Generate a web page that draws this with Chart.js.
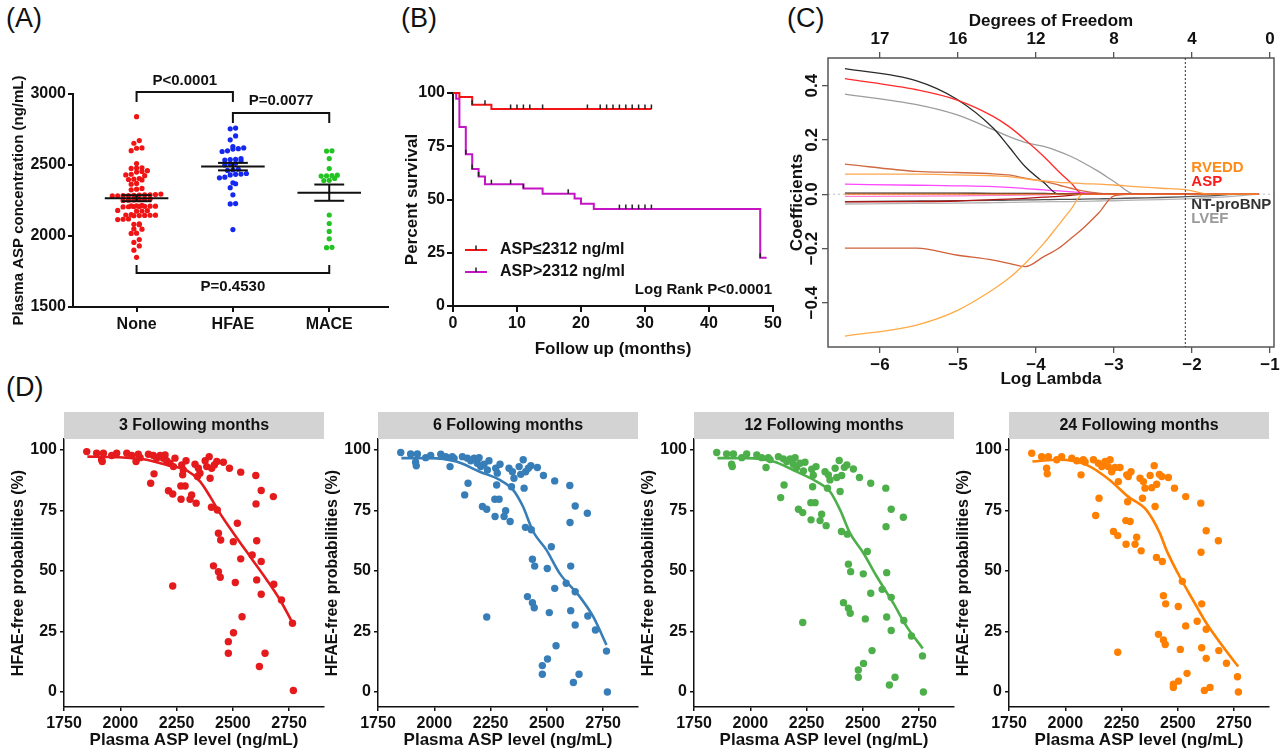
<!DOCTYPE html>
<html>
<head>
<meta charset="utf-8">
<title>Plasma ASP figure</title>
<script src="https://cdn.jsdelivr.net/npm/chart.js@4.4.1/dist/chart.umd.min.js"></script>
<style>
  html, body { margin: 0; padding: 0; background: #fff; }
  body { position: relative; width: 1284px; height: 753px; overflow: hidden; font-family: "Liberation Sans", Arial, sans-serif; }
  canvas { position: absolute; }
  .tag { position: absolute; font-size: 27px; line-height: 27px; color: #111; }
</style>
</head>
<body>
<div class="tag" style="left:6px;top:5px">(A)</div>
<div class="tag" style="left:401px;top:5px">(B)</div>
<div class="tag" style="left:787px;top:5px">(C)</div>
<div class="tag" style="left:6px;top:374px">(D)</div>
<canvas id="chartA" width="392" height="310" style="left:0px;top:60px"></canvas>
<canvas id="chartB" width="393" height="310" style="left:392px;top:60px"></canvas>
<canvas id="chartC" width="499" height="390" style="left:785px;top:0px"></canvas>
<canvas id="chartD1" width="330" height="348" style="left:0px;top:405px"></canvas>
<canvas id="chartD2" width="330" height="348" style="left:314px;top:405px"></canvas>
<canvas id="chartD3" width="330" height="348" style="left:630px;top:405px"></canvas>
<canvas id="chartD4" width="330" height="348" style="left:945px;top:405px"></canvas>
<script>
// ---------- (A) ASP by outcome group ----------
const groupNames = ['None', 'HFAE', 'MACE'];
const aspNone = [2840, 2672, 2653, 2620, 2618, 2601, 2510, 2480, 2478, 2476, 2460, 2455, 2450, 2435, 2430, 2425,
  2405, 2400, 2398, 2395, 2370, 2365, 2335, 2330, 2325, 2295, 2292, 2290, 2290, 2288, 2286, 2285, 2284, 2283, 2282,
  2260, 2258, 2256, 2254, 2252, 2250, 2215, 2213, 2212, 2210, 2210, 2209, 2208, 2207, 2206, 2205, 2180, 2178, 2176,
  2175, 2150, 2148, 2147, 2146, 2145, 2144, 2143, 2120, 2118, 2116, 2085, 2082, 2080, 2050, 2048, 2020, 2018, 1975,
  1955, 1930, 1900, 1850];
const aspHfae = [2760, 2755, 2705, 2677, 2630, 2620, 2615, 2612, 2600, 2595, 2545, 2540, 2538, 2535, 2530, 2512, 2508,
  2500, 2470, 2466, 2462, 2440, 2436, 2434, 2430, 2414, 2410, 2375, 2368, 2340, 2290, 2228, 2226, 2045];
const aspMace = [2600, 2598, 2545, 2475, 2428, 2425, 2424, 2422, 2405, 2392, 2390, 2148, 2088, 2032, 1980, 1920, 1918];
const groupValues = [aspNone, aspHfae, aspMace];
const groupColors = ['#f01414', '#1428f0', '#22c322'];
const brackets = [
  { from: 1, to: 2, level: 3014, tip: 2944, text: 'P<0.0001', textAt: 3092 },
  { from: 2, to: 3, level: 2866, tip: 2796, text: 'P=0.0077', textAt: 2951 },
  { from: 1, to: 3, level: 1739, tip: 1796, text: 'P=0.4530', textAt: 1641 }
];

// ---------- (B) Kaplan-Meier ----------
const kmLowT = [0, 1, 3, 6, 31];
const kmLowS = [100, 98.1, 94.5, 92.5, 92.5];
const kmLowCensor = [3, 5, 9, 10, 11, 12, 14, 21, 23, 24, 25, 26, 27, 28, 29, 30, 31];
const kmHighT = [0, 0.5, 1, 2, 3, 4, 5, 11, 14, 19, 20, 22, 48, 49];
const kmHighS = [100, 97.3, 84.0, 71.3, 64.3, 60.8, 57.2, 55.2, 52.7, 50.5, 48.0, 45.5, 22.7, 22.7];
const kmHighCensor = [2, 3, 4, 6, 9, 11, 18, 26, 27, 28, 29, 30, 31, 48];
const kmLabels = ['ASP\u22642312 ng/ml', 'ASP>2312 ng/ml'];

// ---------- (C) LASSO paths ----------
const lassoLambda = [-6.45, -5.53, -5.02, -4.55, -4.35, -4.14, -3.9, -3.71, -3.55, -3.4, -3.2, -3.0, -2.73, -2.4, -2.07, -1.77, -1.37, -1.15];
const coefZero = [0, 0, 0, 0, 0, 0, 0, 0, 0, 0, 0, 0, 0, 0, 0, 0, 0, 0];
const coefDark = [0.463, 0.418, 0.351, 0.244, 0.176, 0.102, 0.043, 0, 0, 0, 0, 0, 0, 0, 0, 0, 0, 0];
const coefRed = [0.426, 0.385, 0.348, 0.287, 0.250, 0.201, 0.139, 0.084, 0.041, 0, 0, 0, 0, 0, 0, 0, 0, 0];
const coefGray = [0.369, 0.330, 0.293, 0.238, 0.213, 0.191, 0.176, 0.158, 0.139, 0.117, 0.084, 0.047, 0, 0, 0, 0, 0, 0];
const coefBrownUp = [0.111, 0.084, 0.080, 0.075, 0.071, 0.059, 0.047, 0.034, 0.022, 0.012, 0.004, 0, 0, 0, 0, 0, 0, 0];
const coefOrangeUp = [0.074, 0.074, 0.071, 0.068, 0.065, 0.057, 0.049, 0.044, 0.042, 0.039, 0.037, 0.034, 0.028, 0.022, 0.016, 0, 0, 0];
const coefMagenta = [0.037, 0.033, 0.031, 0.028, 0.025, 0.021, 0.016, 0.012, 0.009, 0.006, 0.002, 0, 0, 0, 0, 0, 0, 0];
const coefOrangeLow = [-0.523, -0.482, -0.430, -0.351, -0.310, -0.255, -0.181, -0.113, -0.055, 0, 0, 0, 0, 0, 0, 0, 0, 0];
const coefBrownLow = [-0.199, -0.199, -0.224, -0.243, -0.255, -0.267, -0.230, -0.199, -0.162, -0.126, -0.070, -0.006, 0, 0, 0, 0, 0, 0];
const coefBlack2 = [0.004, 0.004, 0.004, 0.003, 0.003, 0.003, 0.003, 0.002, 0.002, 0.002, 0.001, 0, 0, 0, 0, 0, 0, 0];
const coefDarkRed = [-0.028, -0.027, -0.025, -0.020, -0.018, -0.015, -0.011, -0.008, -0.004, 0, 0, 0, 0, 0, 0, 0, 0, 0];
const coefPink = [-0.008, -0.007, -0.006, -0.004, -0.004, -0.003, -0.002, 0, 0, 0, 0, 0, 0, 0, 0, 0, 0, 0];
const coefNtprobnp = [-0.027, -0.025, -0.024, -0.023, -0.022, -0.021, -0.020, -0.019, -0.019, -0.018, -0.017, -0.016, -0.014, -0.012, -0.009, -0.006, 0, 0];
const coefLvef = [-0.036, -0.034, -0.033, -0.031, -0.030, -0.029, -0.028, -0.027, -0.027, -0.026, -0.025, -0.024, -0.022, -0.020, -0.017, -0.013, -0.005, 0];
const dfTicks = [-6, -5, -4, -3, -2, -1];
const dfLabels = ['17', '16', '12', '8', '4', '0'];
const cvLambda = -2.086;

// ---------- (D) HFAE-free probability vs ASP ----------
const aspLevel = [1851, 1895, 1917, 1920, 1925, 1962, 1984, 2029, 2051, 2070, 2080, 2088, 2125, 2147, 2162, 2177, 2191,
  2199, 2206, 2221, 2243, 2236, 2273, 2280, 2292, 2277, 2332, 2347, 2354, 2377, 2395, 2384, 2406, 2399, 2418, 2429,
  2458, 2485, 2535, 2602, 2343, 2150, 2135, 2214, 2233, 2269, 2288, 2270, 2310, 2317, 2337, 2405, 2431, 2626, 2680,
  2603, 2436, 2446, 2520, 2502, 2535, 2586, 2606, 2626, 2414, 2436, 2444, 2511, 2606, 2626, 2682, 2716, 2233, 2541,
  2503, 2480, 2480, 2643, 2618, 2765, 2769];
const hfae3 = [99.3, 98.6, 95.9, 95.2, 98.6, 97.7, 98.6, 98.6, 97.7, 95.2, 98.2, 96.8, 98.2, 97.7, 96.6, 97.7, 96.6,
  97.9, 95.5, 94.5, 96.6, 93.1, 93.8, 91.7, 95.5, 89.7, 94.1, 92.4, 90.4, 95.5, 97.2, 93.1, 92.4, 88.3, 93.8, 95.2,
  94.9, 92.4, 90.8, 89.4, 89.0, 90.1, 86.2, 83.1, 81.8, 85.1, 85.1, 79.6, 79.6, 81.4, 78.0, 76.3, 75.2, 83.2, 80.7,
  77.7, 65.6, 62.8, 69.7, 62.1, 55.0, 56.6, 62.5, 53.9, 52.1, 49.7, 47.4, 45.2, 46.3, 40.4, 44.5, 38.0, 43.8, 31.1,
  24.5, 20.8, 16.0, 16.0, 10.5, 28.4, 0.6];
const hfae6 = [98.9, 98.3, 94.9, 93.4, 98.3, 96.8, 97.7, 98.2, 97.2, 93.1, 97.2, 96.5, 97.2, 96.6, 95.5, 96.6, 94.5,
  96.8, 93.1, 94.1, 95.5, 91.7, 92.4, 90.4, 94.1, 85.5, 92.4, 91.0, 88.3, 93.1, 95.9, 89.9, 91.0, 84.2, 92.4, 93.5,
  92.7, 89.4, 87.2, 85.3, 84.8, 86.2, 81.4, 76.6, 75.5, 79.6, 79.6, 72.5, 72.5, 74.9, 70.4, 68.0, 67.0, 76.8, 73.8,
  70.0, 54.8, 52.0, 60.0, 51.0, 42.8, 44.9, 52.0, 41.4, 39.4, 36.9, 34.8, 32.8, 33.6, 27.7, 31.4, 25.6, 31.0, 19.1,
  13.6, 10.9, 7.3, 7.3, 3.9, 16.9, 0];
const hfae12 = [98.9, 98.3, 94.1, 93.1, 98.3, 96.8, 98.3, 97.9, 96.8, 92.7, 96.8, 96.0, 97.2, 96.3, 95.2, 96.3, 94.1,
  96.8, 92.7, 94.5, 94.9, 91.3, 92.0, 89.5, 93.1, 84.8, 91.0, 89.7, 87.6, 92.4, 95.6, 88.6, 89.4, 82.8, 92.8, 93.8,
  92.1, 88.6, 86.2, 84.2, 84.2, 85.5, 80.3, 75.5, 74.1, 78.2, 78.2, 71.1, 70.8, 73.4, 68.7, 66.3, 65.2, 75.5, 72.2,
  68.3, 52.8, 49.7, 58.0, 48.8, 40.8, 42.4, 49.3, 39.1, 36.9, 34.6, 32.5, 30.2, 31.0, 25.4, 29.5, 23.1, 28.7, 17.1,
  11.8, 9.1, 6.1, 6.1, 2.9, 14.9, 0];
const hfae24 = [98.6, 97.2, 92.4, 90.1, 97.2, 95.9, 97.2, 96.6, 95.5, 89.7, 95.9, 95.0, 95.9, 94.5, 93.1, 95.2, 93.1,
  95.9, 91.0, 92.7, 92.7, 86.9, 89.7, 89.0, 91.0, 78.6, 88.3, 86.9, 84.2, 89.4, 93.5, 84.4, 85.8, 76.6, 89.9, 89.0,
  88.6, 84.2, 80.7, 78.0, 80.0, 80.0, 72.9, 66.3, 64.6, 70.8, 70.4, 61.0, 61.0, 63.9, 58.3, 55.6, 53.9, 66.6, 62.5,
  57.7, 39.8, 36.4, 45.7, 35.3, 27.3, 29.2, 36.4, 25.9, 23.8, 21.5, 19.6, 17.6, 18.3, 13.9, 17.1, 11.9, 16.4, 7.7,
  4.5, 3.2, 1.9, 1.9, 0.6, 6.3, 0];
const fit3X = [1854, 1984, 2103, 2206, 2295, 2355, 2399, 2443, 2503, 2577, 2651, 2710, 2762];
const fit3Y = [97.2, 97.0, 96.1, 93.8, 91.5, 86.9, 80.7, 73.8, 65.6, 55.9, 46.3, 38.0, 29.1];
const fit6X = [1854, 1980, 2098, 2202, 2291, 2350, 2394, 2439, 2498, 2557, 2646, 2706, 2765];
const fit6Y = [96.6, 96.6, 95.2, 91.0, 87.6, 83.5, 76.6, 66.3, 58.7, 49.0, 39.4, 31.1, 19.4];
const fit12X = [1854, 1984, 2103, 2206, 2295, 2354, 2399, 2443, 2503, 2562, 2636, 2695, 2766];
const fit12Y = [96.6, 96.6, 95.2, 91.0, 86.9, 82.8, 75.2, 65.6, 57.3, 47.7, 36.6, 27.0, 18.0];
const fit24X = [1854, 1975, 2094, 2197, 2279, 2360, 2420, 2449, 2508, 2567, 2627, 2701, 2768];
const fit24Y = [95.2, 95.9, 93.8, 87.6, 80.7, 75.2, 65.6, 58.7, 47.7, 38.0, 28.4, 18.7, 10.5];

const FONT = '"Liberation Sans", Arial, sans-serif';
Chart.defaults.font.family = FONT;
Chart.defaults.font.weight = 'bold';
Chart.defaults.color = '#111';
Chart.defaults.animation = false;
Chart.defaults.events = [];
Chart.defaults.plugins.legend.display = false;
Chart.defaults.plugins.tooltip.enabled = false;

function bold(size) { return { size: size, weight: 'bold', family: FONT }; }
const plain = v => String(v);

// ---------- helpers ----------
const mean = a => a.reduce((s, v) => s + v, 0) / a.length;
const sem = a => {
  const m = mean(a);
  return Math.sqrt(a.reduce((s, v) => s + (v - m) * (v - m), 0) / (a.length - 1) / a.length);
};

// simple beeswarm: values within ~one dot height share a row and spread sideways
function swarm(values, center) {
  const sorted = values.slice().sort((a, b) => a - b);
  const pts = [];
  let i = 0;
  while (i < sorted.length) {
    let j = i;
    while (j < sorted.length && sorted[j] - sorted[i] < 32) j++;
    const n = j - i;
    for (let k = 0; k < n; k++) pts.push({ x: center + (k - (n - 1) / 2) * 0.056, y: sorted[i + k] });
    i = j;
  }
  return pts;
}

function survAt(ts, ss, t) {
  let s = ss[0];
  for (let i = 0; i < ts.length; i++) if (ts[i] <= t) s = ss[i];
  return s;
}

// ---------- chart A ----------
const statsPlugin = {
  id: 'stats',
  afterDatasetsDraw(chart) {
    const { ctx, scales: { x, y } } = chart;
    const px = v => x.getPixelForValue(v), py = v => y.getPixelForValue(v);
    const seg = (x1, y1, x2, y2) => { ctx.beginPath(); ctx.moveTo(px(x1), py(y1)); ctx.lineTo(px(x2), py(y2)); ctx.stroke(); };
    ctx.save();
    ctx.strokeStyle = '#111';
    ctx.lineWidth = 2;
    groupValues.forEach((vals, i) => {
      const c = i + 1, m = mean(vals), e = sem(vals);
      seg(c - 0.33, m, c + 0.33, m);
      seg(c, m - e, c, m + e);
      seg(c - 0.155, m - e, c + 0.155, m - e);
      seg(c - 0.155, m + e, c + 0.155, m + e);
    });
    ctx.fillStyle = '#111';
    ctx.font = 'bold 15px ' + FONT;
    ctx.textAlign = 'center';
    ctx.textBaseline = 'middle';
    brackets.forEach(b => {
      ctx.beginPath();
      ctx.moveTo(px(b.from), py(b.tip));
      ctx.lineTo(px(b.from), py(b.level));
      ctx.lineTo(px(b.to), py(b.level));
      ctx.lineTo(px(b.to), py(b.tip));
      ctx.stroke();
      ctx.fillText(b.text, px((b.from + b.to) / 2), py(b.textAt));
    });
    ctx.restore();
  }
};

new Chart(document.getElementById('chartA'), {
  type: 'line',
  data: {
    datasets: groupValues.map((vals, i) => ({
      data: swarm(vals, i + 1),
      showLine: false,
      pointRadius: 2.6,
      pointBorderWidth: 0,
      pointBackgroundColor: groupColors[i],
      clip: false
    }))
  },
  options: {
    responsive: false,
    layout: { padding: { top: 34, right: 2, left: 0, bottom: 0 } },
    scales: {
      x: {
        type: 'linear', min: 0.34, max: 3.61,
        afterBuildTicks: s => { s.ticks = groupNames.map((n, i) => ({ value: i + 1 })); },
        afterFit: s => { s.height = 63; },
        ticks: { font: bold(16), color: '#111', padding: 3, callback: v => groupNames[Math.round(v) - 1] },
        grid: { drawOnChartArea: false, tickLength: 5, color: '#111', lineWidth: 2 },
        border: { color: '#111', width: 2 }
      },
      y: {
        min: 1500, max: 3000,
        afterFit: s => { s.width = 73; },
        ticks: { stepSize: 500, font: bold(16), color: '#111', padding: 2, callback: plain },
        grid: { drawOnChartArea: false, tickLength: 5, color: '#111', lineWidth: 2 },
        border: { color: '#111', width: 2 },
        title: { display: true, text: 'Plasma ASP concentration (ng/mL)', font: bold(15), color: '#111', padding: { top: 10, bottom: 0 } }
      }
    }
  },
  plugins: [statsPlugin]
});

// ---------- chart B ----------
const lowColor = '#f01414';
const highColor = '#c414c4';

const kmLegend = {
  id: 'kmLegend',
  afterDraw(chart) {
    const { ctx, chartArea } = chart;
    ctx.save();
    [lowColor, highColor].forEach((col, i) => {
      const yy = chartArea.top + 157 + i * 22;
      const x0 = chartArea.left + 12;
      ctx.strokeStyle = col;
      ctx.lineWidth = 2;
      ctx.beginPath(); ctx.moveTo(x0, yy); ctx.lineTo(x0 + 22, yy); ctx.stroke();
      ctx.strokeStyle = '#222';
      ctx.lineWidth = 1.5;
      ctx.beginPath(); ctx.moveTo(x0 + 11, yy); ctx.lineTo(x0 + 11, yy - 4.5); ctx.stroke();
      ctx.fillStyle = '#111';
      ctx.font = 'bold 16px ' + FONT;
      ctx.textAlign = 'left';
      ctx.textBaseline = 'middle';
      ctx.fillText(kmLabels[i], x0 + 35, yy);
    });
    ctx.font = 'bold 15px ' + FONT;
    ctx.textAlign = 'right';
    ctx.textBaseline = 'middle';
    ctx.fillText('Log Rank P<0.0001', chartArea.right - 1, chartArea.top + 197);
    ctx.restore();
  }
};

new Chart(document.getElementById('chartB'), {
  type: 'line',
  data: {
    datasets: [
      {
        data: kmLowCensor.map(t => ({ x: t, y: survAt(kmLowT, kmLowS, t) })),
        showLine: false, pointStyle: 'dash', pointRotation: 270, pointRadius: 4.5,
        pointBorderColor: '#222', pointBorderWidth: 1.5, clip: false
      },
      {
        data: kmHighCensor.map(t => ({ x: t, y: survAt(kmHighT, kmHighS, t) })),
        showLine: false, pointStyle: 'dash', pointRotation: 270, pointRadius: 4.5,
        pointBorderColor: '#222', pointBorderWidth: 1.5, clip: false
      },
      {
        data: kmLowT.map((t, i) => ({ x: t, y: kmLowS[i] })),
        stepped: true, borderColor: lowColor, borderWidth: 2, pointRadius: 0, clip: false
      },
      {
        data: kmHighT.map((t, i) => ({ x: t, y: kmHighS[i] })),
        stepped: true, borderColor: highColor, borderWidth: 2, pointRadius: 0, clip: false
      }
    ]
  },
  options: {
    responsive: false,
    layout: { padding: { top: 33, right: 12, left: 0, bottom: 0 } },
    scales: {
      x: {
        type: 'linear', min: 0, max: 50,
        afterFit: s => { s.height = 64; },
        ticks: { stepSize: 10, font: bold(16), color: '#111', padding: 2 },
        grid: { drawOnChartArea: false, tickLength: 6, color: '#111', lineWidth: 2 },
        border: { color: '#111', width: 2 },
        title: { display: true, text: 'Follow up (months)', font: bold(17), color: '#111', padding: { top: 0, bottom: 10 } }
      },
      y: {
        min: 0, max: 100,
        afterFit: s => { s.width = 61; },
        ticks: { stepSize: 25, font: bold(16), color: '#111', padding: 2 },
        grid: { drawOnChartArea: false, tickLength: 6, color: '#111', lineWidth: 2 },
        border: { color: '#111', width: 2 },
        title: { display: true, text: 'Percent survival', font: bold(17), color: '#111', padding: { top: 10, bottom: 0 } }
      }
    }
  },
  plugins: [kmLegend]
});

// ---------- chart C ----------
const lassoPaths = [coefZero, coefOrangeUp, coefRed, coefDark, coefGray, coefBrownUp, coefMagenta, coefOrangeLow,
  coefBrownLow, coefBlack2, coefDarkRed, coefPink, coefNtprobnp, coefLvef];
const lassoColors = ['#f0782a', '#ffa64d', '#ff2a2a', '#2a2a2a', '#9c9c9c', '#cf6a43', '#ff47ff', '#ffaa44',
  '#d0603a', '#222222', '#b01515', '#ff7fd0', '#555555', '#b3b3b3'];
const lassoLabels = [
  { text: 'RVEDD', color: '#ff8c1a', at: 0.097 },
  { text: 'ASP', color: '#ff1a1a', at: 0.045 },
  { text: 'NT-proBNP', color: '#333333', at: -0.039 },
  { text: 'LVEF', color: '#9a9a9a', at: -0.091 }
];
const minus = v => (v < 0 ? '\u2212' : '') + Math.abs(v);

const lassoDecor = {
  id: 'lassoDecor',
  beforeDatasetsDraw(chart) {
    const { ctx, chartArea: a, scales: { y } } = chart;
    ctx.save();
    ctx.strokeStyle = '#bdbdbd';
    ctx.lineWidth = 1;
    ctx.setLineDash([2, 3]);
    ctx.beginPath(); ctx.moveTo(a.left, y.getPixelForValue(0)); ctx.lineTo(a.right, y.getPixelForValue(0)); ctx.stroke();
    ctx.restore();
  },
  afterDraw(chart) {
    const { ctx, chartArea: a, scales: { x, y } } = chart;
    ctx.save();
    ctx.strokeStyle = '#555';
    ctx.lineWidth = 1.5;
    ctx.strokeRect(a.left, a.top, a.right - a.left, a.bottom - a.top);
    const cx = x.getPixelForValue(cvLambda);
    ctx.strokeStyle = '#333';
    ctx.lineWidth = 1;
    ctx.setLineDash([2, 2]);
    ctx.beginPath(); ctx.moveTo(cx, a.top); ctx.lineTo(cx, a.bottom); ctx.stroke();
    ctx.setLineDash([]);
    ctx.font = 'bold 15px ' + FONT;
    ctx.textAlign = 'left';
    ctx.textBaseline = 'middle';
    lassoLabels.forEach(l => {
      ctx.fillStyle = l.color;
      ctx.fillText(l.text, cx + 6, y.getPixelForValue(l.at));
    });
    ctx.restore();
  }
};

new Chart(document.getElementById('chartC'), {
  type: 'line',
  data: {
    datasets: lassoPaths.map((path, i) => ({
      data: lassoLambda.map((l, k) => ({ x: l, y: path[k] })),
      borderColor: lassoColors[i],
      borderWidth: 1.3,
      pointRadius: 0,
      cubicInterpolationMode: 'monotone'
    }))
  },
  options: {
    responsive: false,
    layout: { padding: { top: 0, right: 10, left: 0, bottom: 0 } },
    scales: {
      x: {
        type: 'linear', position: 'bottom', min: -6.667, max: -0.949,
        afterFit: s => { s.height = 43; },
        ticks: { stepSize: 1, includeBounds: false, font: bold(17), color: '#111', padding: 2, callback: v => minus(v) },
        grid: { drawOnChartArea: false, tickLength: 6, color: '#555', lineWidth: 1.3 },
        border: { display: false },
        title: { display: true, text: 'Log Lambda', font: bold(17), color: '#111', padding: { top: 0, bottom: 0 } }
      },
      x2: {
        type: 'linear', position: 'top', min: -6.667, max: -0.949,
        afterFit: s => { s.height = 58; },
        afterBuildTicks: s => { s.ticks = dfTicks.map(v => ({ value: v })); },
        ticks: { font: bold(17), color: '#111', padding: 2, callback: v => dfLabels[dfTicks.indexOf(Math.round(v))] },
        grid: { drawOnChartArea: false, tickLength: 6, color: '#555', lineWidth: 1.3 },
        border: { display: false },
        title: { display: true, text: 'Degrees of Freedom', font: bold(17), color: '#111', padding: { top: 11, bottom: 0 } }
      },
      y: {
        min: -0.563, max: 0.502,
        afterFit: s => { s.width = 43; },
        ticks: {
          stepSize: 0.2, includeBounds: false, minRotation: 90, maxRotation: 90, crossAlign: 'center',
          font: bold(17), color: '#111', padding: -7,
          callback: v => (v < -0.001 ? '\u2212' : '') + Math.abs(v).toFixed(1)
        },
        grid: { drawOnChartArea: false, tickLength: 6, color: '#555', lineWidth: 1.3 },
        border: { display: false },
        title: { display: true, text: 'Coefficients', font: bold(17), color: '#111', padding: { top: 2, bottom: 0 } }
      }
    }
  },
  plugins: [lassoDecor]
});

// ---------- charts D ----------
function stripPlugin(title) {
  return {
    id: 'strip',
    afterDraw(chart) {
      const { ctx, chartArea: a } = chart;
      ctx.save();
      ctx.fillStyle = '#d3d3d3';
      ctx.fillRect(a.left, a.top - 27, a.right - a.left, 27);
      ctx.fillStyle = '#111';
      ctx.font = 'bold 16px ' + FONT;
      ctx.textAlign = 'center';
      ctx.textBaseline = 'middle';
      ctx.fillText(title, (a.left + a.right) / 2, a.top - 13);
      ctx.restore();
    }
  };
}

function drawPanelD(id, title, color, probs, fitX, fitY) {
  new Chart(document.getElementById(id), {
    type: 'line',
    data: {
      datasets: [
        {
          data: fitX.map((v, i) => ({ x: v, y: fitY[i] })),
          borderColor: color, borderWidth: 2.6, pointRadius: 0,
          cubicInterpolationMode: 'monotone', clip: false
        },
        {
          data: aspLevel.map((v, i) => ({ x: v, y: probs[i] })),
          showLine: false, pointRadius: 3.7, pointBorderWidth: 0,
          pointBackgroundColor: color, clip: false
        }
      ]
    },
    options: {
      responsive: false,
      layout: { padding: { top: 34, right: 6, left: 0, bottom: 0 } },
      scales: {
        x: {
          type: 'linear', min: 1750, max: 2905,
          afterFit: s => { s.height = 46; },
          ticks: { stepSize: 250, includeBounds: false, font: bold(16), color: '#111', padding: 3, callback: plain },
          grid: { drawOnChartArea: false, tickLength: 4, color: '#111', lineWidth: 1.5 },
          border: { color: '#111', width: 1.5 },
          title: { display: true, text: 'Plasma ASP level (ng/mL)', font: bold(17), color: '#111', padding: { top: 0, bottom: 2 } }
        },
        y: {
          min: -6.2, max: 104.5,
          afterFit: s => { s.width = 64; },
          ticks: { stepSize: 25, includeBounds: false, font: bold(16), color: '#111', padding: 3 },
          grid: { drawOnChartArea: false, tickLength: 4, color: '#111', lineWidth: 1.5 },
          border: { color: '#111', width: 1.5 },
          title: { display: true, text: 'HFAE-free probabilities (%)', font: bold(16), color: '#111', padding: { top: 9, bottom: 0 } }
        }
      }
    },
    plugins: [stripPlugin(title)]
  });
}

drawPanelD('chartD1', '3 Following months', '#e41a1c', hfae3, fit3X, fit3Y);
drawPanelD('chartD2', '6 Following months', '#377eb8', hfae6, fit6X, fit6Y);
drawPanelD('chartD3', '12 Following months', '#4daf4a', hfae12, fit12X, fit12Y);
drawPanelD('chartD4', '24 Following months', '#ff7f00', hfae24, fit24X, fit24Y);
</script>
</body>
</html>
